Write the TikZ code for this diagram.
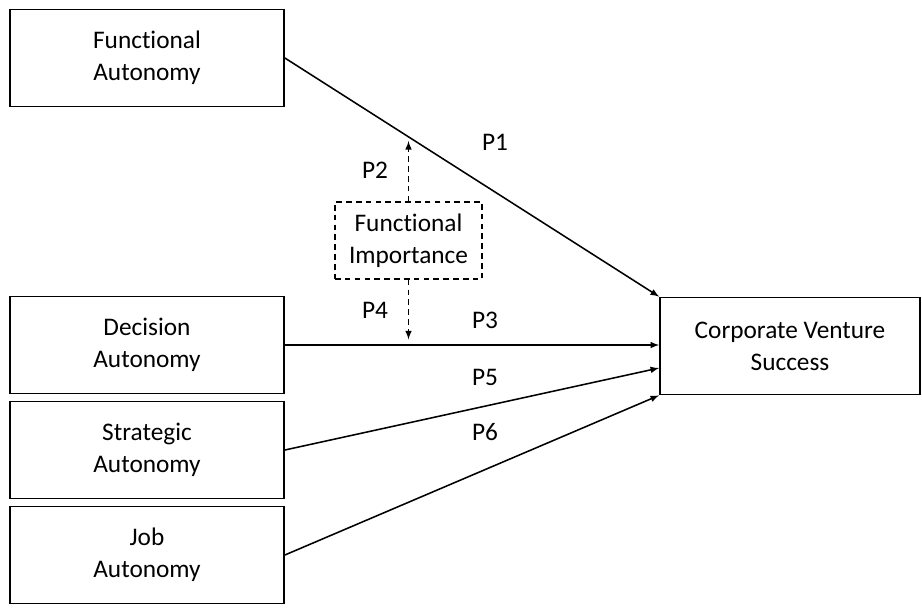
\documentclass[tikz,border=0pt]{standalone}
\usepackage{fontspec}
\setmainfont{Carlito}[Ligatures={NoCommon,NoRare}]
\usepackage{tikz}
\usetikzlibrary{positioning}

\begin{document}
\begin{tikzpicture}
  [
    x=0.025cm, y=-0.025cm,
    every node/.style={font=\fontsize{18}{22.7}\selectfont},
    box/.style={draw=black, line width=1.2pt, align=center,
      minimum width=6.85cm, minimum height=2.425cm, inner sep=1mm},
    modbox/.style={draw=black, line width=1.1pt, dash pattern=on 4pt off 3pt,
      align=center, minimum width=3.675cm, minimum height=1.925cm, inner sep=1mm},
    ld/.style={draw=black, line width=1.1pt, -latex},
    md/.style={draw=black, line width=1.1pt, dash pattern=on 4pt off 3pt, -latex}
  ]
  \useasboundingbox (0,0) rectangle (922,614);

  \node (fa) at (147, 58)  [box] {Functional\\Autonomy};
  \node (da) at (147,345)  [box] {Decision\\Autonomy};
  \node (sa) at (147,450)  [box] {Strategic\\Autonomy};
  \node (ja) at (147,555)  [box] {Job\\Autonomy};
  \node (cvs) at (790,346) [box, minimum width=6.5cm] {Corporate Venture\\Success};

  \node (fi) at (408.5,240.5) [modbox] {Functional\\Importance};

  \node (p1) at (495,142) {P1};
  \node (p2) at (375,170) {P2};
  \node (p4) at (375,310) {P4};
  \node (p3) at (485,320) {P3};
  \node (p5) at (485,377) {P5};
  \node (p6) at (485,432) {P6};

  \draw [ld] (fa.east) -- coordinate[pos=0.33] (m1) (cvs.north west);
  \draw [ld] (da.east) -- (da.east -| cvs.west);
  \draw [ld] (sa.east) -- ([yshift=-0.55cm]cvs.west);
  \draw [ld] (ja.east) -- (cvs.south west);

  \draw [md, shorten >=3pt] (fi.north) -- (fi.north |- m1);
  \draw [md, shorten >=4pt] (fi.south) -- (fi.south |- da.east);
\end{tikzpicture}
\end{document}
